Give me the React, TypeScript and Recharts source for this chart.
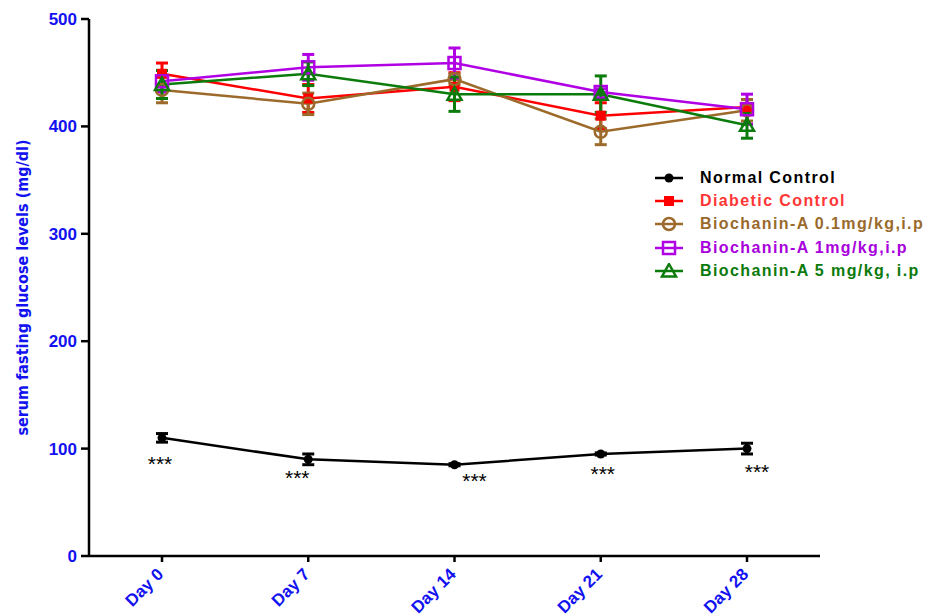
import React from "react";
import {
  LineChart,
  Line,
  XAxis,
  YAxis,
  ErrorBar,
  Legend,
  Label,
  LabelList,
} from "recharts";

// values (mean and error per day)
const DAYS = ["Day 0", "Day 7", "Day 14", "Day 21", "Day 28"];
const Y_TICKS = [0, 100, 200, 300, 400, 500];

const NORMAL = [110, 90, 85, 95, 100];
const NORMAL_ERR = [4, 5, 1, 1, 5];
const DIABETIC = [449, 426, 437, 410, 418];
const DIABETIC_ERR = [10, 13, 13, 12, 7];
const BCA_01 = [434, 421, 444, 395, 415];
const BCA_01_ERR = [12, 10, 5, 12, 10];
const BCA_1 = [442, 455, 459, 432, 416];
const BCA_1_ERR = [10, 12, 14, 3, 14];
const BCA_5 = [439, 449, 430, 430, 401];
const BCA_5_ERR = [13, 11, 16, 17, 12];

// significance marks under the normal control points
const STARS = ["***", "***", "***", "***", "***"];
const STAR_OFFSETS = [
  [-2, 26],
  [-11, 18],
  [20, 16],
  [2, 20],
  [10, 23],
];

const BLUE = "#1212f0";
const FONT = "Arial, 'Liberation Sans', Helvetica, sans-serif";

const SERIES = [
  { key: "normal", name: "Normal Control", color: "#000000", text: "#000000", shape: "dot" },
  { key: "diabetic", name: "Diabetic Control", color: "#ff0000", text: "#ff3636", shape: "square" },
  { key: "bca01", name: "Biochanin-A 0.1mg/kg,i.p", color: "#9c6a2a", text: "#9a6a2c", shape: "circle" },
  { key: "bca1", name: "Biochanin-A 1mg/kg,i.p", color: "#b000e4", text: "#a800dc", shape: "box" },
  { key: "bca5", name: "Biochanin-A 5 mg/kg, i.p", color: "#0b7c0b", text: "#0b7a0b", shape: "triangle" },
];

const data = DAYS.map((day, i) => ({
  day,
  normal: NORMAL[i],
  normalErr: NORMAL_ERR[i],
  diabetic: DIABETIC[i],
  diabeticErr: DIABETIC_ERR[i],
  bca01: BCA_01[i],
  bca01Err: BCA_01_ERR[i],
  bca1: BCA_1[i],
  bca1Err: BCA_1_ERR[i],
  bca5: BCA_5[i],
  bca5Err: BCA_5_ERR[i],
  star: STARS[i],
}));

const Marker = ({ shape, cx, cy, color }: { shape: string; cx: number; cy: number; color: string }) => {
  if (cx == null || cy == null) return null;
  switch (shape) {
    case "dot":
      return <circle cx={cx} cy={cy} r={4.5} fill={color} />;
    case "square":
      return <rect x={cx - 5} y={cy - 5} width={10} height={10} fill={color} />;
    case "circle":
      return <circle cx={cx} cy={cy} r={6} fill="none" stroke={color} strokeWidth={2.5} />;
    case "box":
      return (
        <rect x={cx - 6} y={cy - 6} width={12} height={12} fill="none" stroke={color} strokeWidth={2.5} />
      );
    default:
      return (
        <polygon
          points={`${cx},${cy - 7} ${cx + 7},${cy + 5.5} ${cx - 7},${cy + 5.5}`}
          fill="none"
          stroke={color}
          strokeWidth={2.5}
        />
      );
  }
};

const XTick = ({ x, y, payload }: any) => (
  <g transform={`translate(${x - 6},${y + 3})`}>
    <text
      transform="rotate(-45)"
      textAnchor="end"
      dy="0.7em"
      fill={BLUE}
      fontSize={17}
      fontWeight="bold"
      fontFamily={FONT}
    >
      {payload.value}
    </text>
  </g>
);

const LegendBox = () => (
  <div style={{ fontFamily: FONT, fontWeight: "bold", fontSize: 16, letterSpacing: 1.4 }}>
    {SERIES.map((s) => (
      <div key={s.key} style={{ display: "flex", alignItems: "center", height: 23.3 }}>
        <svg width={52} height={16}>
          <line x1={7} y1={8} x2={35} y2={8} stroke={s.color} strokeWidth={2.5} />
          <Marker shape={s.shape} cx={21} cy={8} color={s.color} />
        </svg>
        <span style={{ color: s.text, whiteSpace: "nowrap" }}>{s.name}</span>
      </div>
    ))}
  </div>
);

const renderStar = (props: any) => {
  const { x, y, index, value } = props;
  const [dx, dy] = STAR_OFFSETS[index] || [0, 20];
  return (
    <text
      x={x + dx}
      y={y + dy}
      textAnchor="middle"
      dominantBaseline="central"
      fontSize={21}
      fontFamily={FONT}
      fill="#000"
    >
      {value}
    </text>
  );
};

export default function App() {
  return (
    <div style={{ position: "absolute", left: 0, top: 0, width: 930, height: 616, background: "#fff" }}>
      <LineChart width={930} height={616} data={data} margin={{ top: 19, right: 110, bottom: 0, left: 0 }}>
        <XAxis
          dataKey="day"
          height={60}
          padding={{ left: 73, right: 73 }}
          axisLine={{ stroke: "#000", strokeWidth: 2.5 }}
          tickLine={{ stroke: "#000", strokeWidth: 2.5 }}
          tickSize={6}
          tick={<XTick />}
          interval={0}
        />
        <YAxis
          type="number"
          domain={[0, 500]}
          ticks={Y_TICKS}
          width={89}
          axisLine={{ stroke: "#000", strokeWidth: 2.5 }}
          tickLine={{ stroke: "#000", strokeWidth: 2.5 }}
          tickSize={8}
          tickMargin={4}
          tick={{ fill: BLUE, fontSize: 17, fontWeight: "bold", fontFamily: FONT }}
        >
          <Label
            content={({ viewBox }: any) => {
              const cy = viewBox.y + viewBox.height / 2;
              return (
                <text
                  x={22}
                  y={cy}
                  transform={`rotate(-90, 22, ${cy})`}
                  textAnchor="middle"
                  dominantBaseline="central"
                  fill={BLUE}
                  fontSize={16}
                  fontWeight="bold"
                  fontFamily="'Liberation Sans Narrow', 'DejaVu Sans Condensed', Arial, sans-serif"
                >
                  serum fasting glucose levels (mg/dl)
                </text>
              );
            }}
          />
        </YAxis>
        <Legend
          layout="horizontal"
          verticalAlign="middle"
          align="center"
          wrapperStyle={{ left: 648, top: 166, width: 282 }}
          content={() => <LegendBox />}
        />
        {SERIES.map((s) => (
          <Line
            key={s.key}
            dataKey={s.key}
            name={s.name}
            type="linear"
            stroke={s.color}
            strokeWidth={2.5}
            isAnimationActive={false}
            dot={(p: any) => <Marker key={`${s.key}-${p.index}`} shape={s.shape} cx={p.cx} cy={p.cy} color={s.color} />}
            activeDot={false}
          >
            <ErrorBar
              dataKey={`${s.key}Err`}
              direction="y"
              width={6}
              stroke={s.color}
              strokeWidth={3}
              isAnimationActive={false}
            />
            {s.key === "normal" ? <LabelList dataKey="star" content={renderStar} /> : null}
          </Line>
        ))}
      </LineChart>
    </div>
  );
}
